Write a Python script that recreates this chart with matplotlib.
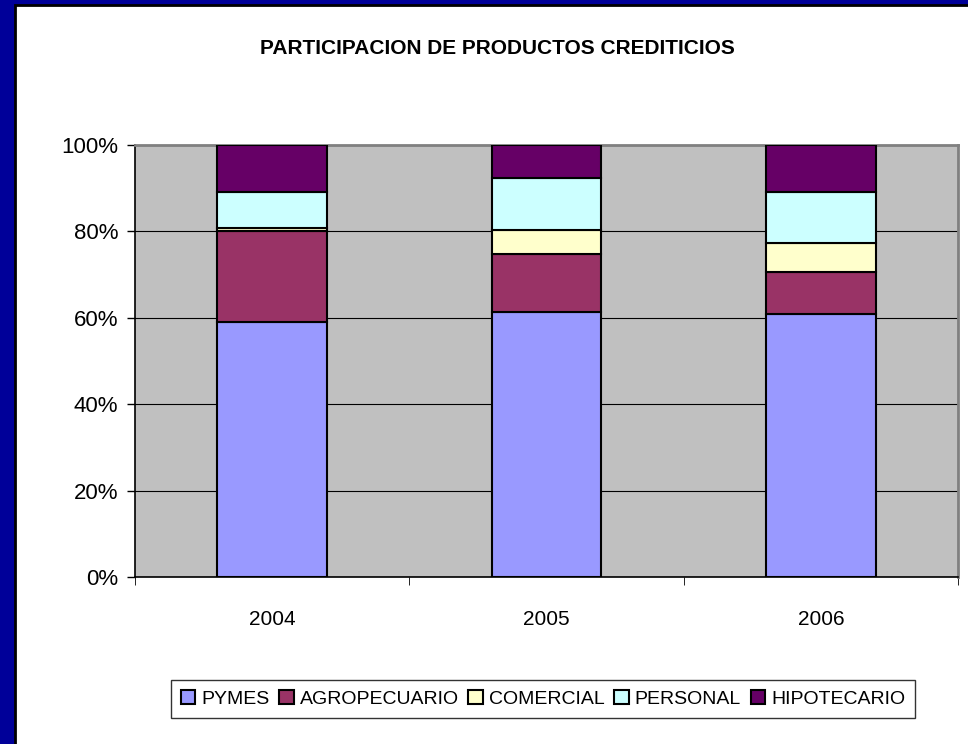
import matplotlib
matplotlib.use("Agg")
import matplotlib.pyplot as plt
from matplotlib.patches import Rectangle
import numpy as np

years = ["2004", "2005", "2006"]
series = ["PYMES", "AGROPECUARIO", "COMERCIAL", "PERSONAL", "HIPOTECARIO"]
pymes = [59.0, 61.4, 60.8]
agro = [21.1, 13.3, 9.7]
comercial = [0.7, 5.6, 6.8]
personal = [8.4, 12.0, 11.9]
hipotecario = [10.8, 7.7, 10.8]
colors = ["#9999FF", "#993366", "#FFFFCC", "#CCFFFF", "#660066"]
yticks = [0, 20, 40, 60, 80, 100]

plt.rcParams["font.family"] = ["Liberation Sans", "DejaVu Sans"]

W, H = 968, 744
fig = plt.figure(figsize=(W / 100, H / 100), dpi=100, facecolor="#000099")
# white panel inside the navy frame
fig.patches.append(Rectangle((15 / W, -0.01), 1, 1.01 - 5 / H, transform=fig.transFigure,
                             facecolor="white", edgecolor="black", linewidth=2, zorder=-5))

ax = fig.add_axes([135 / W, 1 - 577 / H, (958 - 135) / W, (577 - 145) / H], zorder=2)
ax.set_facecolor("#C0C0C0")

x = np.arange(len(years))
bottom = np.zeros(len(years))
for name, vals, c in zip(series, [pymes, agro, comercial, personal, hipotecario], colors):
    ax.bar(x, vals, width=0.4, bottom=bottom, color=c, edgecolor="black", linewidth=1.5,
           label=name, zorder=3)
    bottom += np.array(vals)

ax.set_xlim(-0.5, len(years) - 0.5)
ax.set_ylim(0, 100)
ax.set_yticks(yticks)
ax.set_yticklabels([f"{t}%" for t in yticks], fontsize=16)
ax.set_xticks(x)
ax.set_xticklabels(years, fontsize=15)
ax.tick_params(axis="x", length=0, pad=24)
ax.tick_params(axis="y", length=6, width=1, direction="out", pad=6)
# category boundary ticks
ax.set_xticks(np.arange(-0.5, len(years)), minor=True)
ax.tick_params(axis="x", which="minor", length=6, direction="out")
ax.grid(axis="y", color="black", linewidth=0.8, zorder=1)
ax.set_axisbelow(True)
for s in ["top", "right"]:
    ax.spines[s].set_color("#808080")
    ax.spines[s].set_linewidth(2)
for s in ["left", "bottom"]:
    ax.spines[s].set_color("black")
    ax.spines[s].set_linewidth(1.2)

fig.text(497 / W, 1 - 48 / H, "PARTICIPACION DE PRODUCTOS CREDITICIOS",
         ha="center", va="center", fontsize=15, fontweight="bold")

leg = fig.legend(loc="center", bbox_to_anchor=(543 / W, 1 - 699 / H), ncol=5,
                 fontsize=14, frameon=True, fancybox=False, edgecolor="black",
                 handlelength=0.75, handleheight=0.75, handletextpad=0.3,
                 columnspacing=0.5, borderpad=0.5)
leg.get_frame().set_linewidth(1)

fig.savefig("out.png", dpi=100, facecolor=fig.get_facecolor())
